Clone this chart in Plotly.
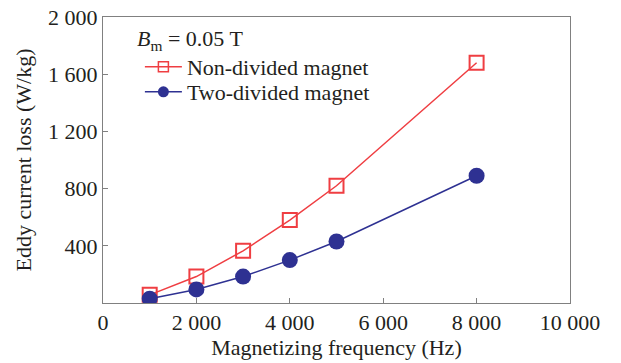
import plotly.graph_objects as go

freq = [1000, 2000, 3000, 4000, 5000, 8000]
non_divided = [57, 185, 365, 580, 820, 1680]
two_divided = [30, 95, 185, 300, 430, 890]

x_ticks = [0, 2000, 4000, 6000, 8000, 10000]
x_labels = ["0", "2 000", "4 000", "6 000", "8 000", "10 000"]
y_ticks = [400, 800, 1200, 1600, 2000]
y_labels = ["400", "800", "1 200", "1 600", "2 000"]

red = "#ef3e42"
blue = "#2e3192"
font = "Liberation Serif"
fs = 22
txt = "#231f20"

fig = go.Figure()
# data traces
fig.add_trace(go.Scatter(
    x=freq, y=non_divided, mode="lines+markers", name="Non-divided magnet",
    line=dict(color=red, width=1.5), showlegend=False,
    marker=dict(symbol="square-open", size=14, color=red, line=dict(width=2, color=red)),
))
fig.add_trace(go.Scatter(
    x=freq, y=two_divided, mode="lines+markers", name="Two-divided magnet",
    line=dict(color=blue, width=1.5), showlegend=False,
    marker=dict(symbol="circle", size=16, color=blue),
))
# legend proxies (smaller symbols, as in the reference legend)
fig.add_trace(go.Scatter(
    x=[None], y=[None], mode="lines+markers", name="Non-divided magnet",
    line=dict(color=red, width=1.5), legend="legend",
    marker=dict(symbol="square-open", size=10, color=red, line=dict(width=1.5, color=red)),
))
fig.add_trace(go.Scatter(
    x=[None], y=[None], mode="lines+markers", name="Two-divided magnet",
    line=dict(color=blue, width=1.5), legend="legend2",
    marker=dict(symbol="circle", size=11, color=blue),
))

axis_common = dict(
    showline=True, linecolor="#808080", linewidth=1, mirror=True,
    ticks="inside", tickcolor="#808080", ticklen=5,
    showgrid=False, zeroline=False, automargin=False,
    tickfont=dict(family=font, size=fs, color=txt),
)
fig.update_xaxes(range=[0, 10000], tickvals=x_ticks, ticktext=x_labels,
                 title=dict(text="Magnetizing frequency (Hz)", font=dict(family=font, size=fs, color=txt), standoff=4),
                 **axis_common)
fig.update_yaxes(range=[0, 2000], tickvals=y_ticks, ticktext=y_labels,
                 title=dict(text="Eddy current loss (W/kg)", font=dict(family=font, size=fs, color=txt), standoff=10),
                 **axis_common)

leg_common = dict(
    xanchor="left", yanchor="middle", bgcolor="rgba(0,0,0,0)",
    font=dict(family=font, size=fs, color=txt), itemwidth=37,
)

fig.update_layout(
    width=621, height=363,
    margin=dict(l=103, r=51, t=17, b=60, autoexpand=False),
    plot_bgcolor="white", paper_bgcolor="white",
    font=dict(family=font, size=fs, color=txt),
    legend=dict(x=0.079, y=(303 - 67) / 286, **leg_common),
    legend2=dict(x=0.079, y=(303 - 92) / 286, **leg_common),
    showlegend=True,
    annotations=[dict(
        text="<i>B</i><sub>m</sub> = 0.05 T", xref="paper", yref="paper",
        x=(135 - 103) / 467, y=(303 - 40) / 286, xanchor="left", yanchor="middle",
        showarrow=False, font=dict(family=font, size=fs, color=txt),
    )],
)

fig.write_html("out.html")
